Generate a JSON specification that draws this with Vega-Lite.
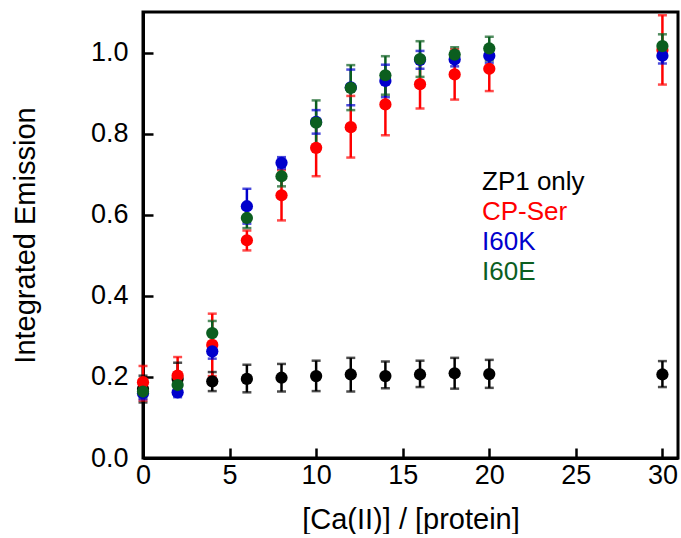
{
  "$schema": "https://vega.github.io/schema/vega-lite/v6.json",
  "width": 535,
  "height": 446,
  "padding": {"left": 11, "top": 12, "right": 2, "bottom": 0},
  "background": "white",
  "config": {
    "view": {"stroke": "black", "strokeWidth": 3},
    "font": "Liberation Sans",
    "axis": {
      "grid": false,
      "domainColor": "black",
      "domainWidth": 3,
      "tickColor": "black",
      "tickWidth": 2.5,
      "tickSize": -10,
      "labelColor": "black",
      "labelFont": "Liberation Sans",
      "labelFontSize": 27,
      "titleFont": "Liberation Sans",
      "titleFontSize": 29,
      "titleFontWeight": "normal",
      "titleColor": "black"
    }
  },
  "data": {
    "values": [
      {"series": "ZP1 only", "x": 0, "y": 0.170, "lo": 0.137, "hi": 0.203},
      {"series": "ZP1 only", "x": 2, "y": 0.195, "lo": 0.160, "hi": 0.235},
      {"series": "ZP1 only", "x": 4, "y": 0.189, "lo": 0.165, "hi": 0.212},
      {"series": "ZP1 only", "x": 6, "y": 0.195, "lo": 0.162, "hi": 0.230},
      {"series": "ZP1 only", "x": 8, "y": 0.198, "lo": 0.164, "hi": 0.232},
      {"series": "ZP1 only", "x": 10, "y": 0.202, "lo": 0.165, "hi": 0.240},
      {"series": "ZP1 only", "x": 12, "y": 0.206, "lo": 0.164, "hi": 0.247},
      {"series": "ZP1 only", "x": 14, "y": 0.202, "lo": 0.172, "hi": 0.238},
      {"series": "ZP1 only", "x": 16, "y": 0.206, "lo": 0.175, "hi": 0.240},
      {"series": "ZP1 only", "x": 18, "y": 0.209, "lo": 0.171, "hi": 0.247},
      {"series": "ZP1 only", "x": 20, "y": 0.207, "lo": 0.173, "hi": 0.242},
      {"series": "ZP1 only", "x": 30, "y": 0.206, "lo": 0.175, "hi": 0.239},
      {"series": "CP-Ser", "x": 0, "y": 0.187, "lo": 0.142, "hi": 0.227},
      {"series": "CP-Ser", "x": 2, "y": 0.203, "lo": 0.160, "hi": 0.249},
      {"series": "CP-Ser", "x": 4, "y": 0.279, "lo": 0.202, "hi": 0.356},
      {"series": "CP-Ser", "x": 6, "y": 0.537, "lo": 0.512, "hi": 0.561},
      {"series": "CP-Ser", "x": 8, "y": 0.648, "lo": 0.586, "hi": 0.710},
      {"series": "CP-Ser", "x": 10, "y": 0.765, "lo": 0.695, "hi": 0.835},
      {"series": "CP-Ser", "x": 12, "y": 0.816, "lo": 0.741, "hi": 0.893},
      {"series": "CP-Ser", "x": 14, "y": 0.872, "lo": 0.796, "hi": 0.948},
      {"series": "CP-Ser", "x": 16, "y": 0.922, "lo": 0.862, "hi": 0.982},
      {"series": "CP-Ser", "x": 18, "y": 0.946, "lo": 0.884, "hi": 1.008},
      {"series": "CP-Ser", "x": 20, "y": 0.960, "lo": 0.905, "hi": 1.015},
      {"series": "CP-Ser", "x": 30, "y": 1.006, "lo": 0.921, "hi": 1.092},
      {"series": "I60K", "x": 0, "y": 0.160, "lo": 0.145, "hi": 0.175},
      {"series": "I60K", "x": 2, "y": 0.162, "lo": 0.150, "hi": 0.175},
      {"series": "I60K", "x": 4, "y": 0.263, "lo": 0.245, "hi": 0.281},
      {"series": "I60K", "x": 6, "y": 0.621, "lo": 0.578, "hi": 0.664},
      {"series": "I60K", "x": 8, "y": 0.728, "lo": 0.714, "hi": 0.742},
      {"series": "I60K", "x": 10, "y": 0.829, "lo": 0.800, "hi": 0.858},
      {"series": "I60K", "x": 12, "y": 0.914, "lo": 0.870, "hi": 0.958},
      {"series": "I60K", "x": 14, "y": 0.930, "lo": 0.890, "hi": 0.970},
      {"series": "I60K", "x": 16, "y": 0.982, "lo": 0.960, "hi": 1.004},
      {"series": "I60K", "x": 18, "y": 0.983, "lo": 0.966, "hi": 1.000},
      {"series": "I60K", "x": 20, "y": 0.992, "lo": 0.975, "hi": 1.009},
      {"series": "I60K", "x": 30, "y": 0.992, "lo": 0.973, "hi": 1.011},
      {"series": "I60E", "x": 0, "y": 0.164, "lo": 0.150, "hi": 0.178},
      {"series": "I60E", "x": 2, "y": 0.180, "lo": 0.165, "hi": 0.195},
      {"series": "I60E", "x": 4, "y": 0.308, "lo": 0.278, "hi": 0.338},
      {"series": "I60E", "x": 6, "y": 0.592, "lo": 0.567, "hi": 0.617},
      {"series": "I60E", "x": 8, "y": 0.695, "lo": 0.670, "hi": 0.720},
      {"series": "I60E", "x": 10, "y": 0.827, "lo": 0.772, "hi": 0.882},
      {"series": "I60E", "x": 12, "y": 0.913, "lo": 0.858, "hi": 0.969},
      {"series": "I60E", "x": 14, "y": 0.944, "lo": 0.896, "hi": 0.991},
      {"series": "I60E", "x": 16, "y": 0.984, "lo": 0.940, "hi": 1.028},
      {"series": "I60E", "x": 18, "y": 0.995, "lo": 0.977, "hi": 1.013},
      {"series": "I60E", "x": 20, "y": 1.010, "lo": 0.981, "hi": 1.039},
      {"series": "I60E", "x": 30, "y": 1.016, "lo": 0.987, "hi": 1.045}
    ]
  },
  "encoding": {
    "x": {
      "field": "x",
      "type": "quantitative",
      "scale": {"domain": [0, 30.9], "nice": false, "zero": false},
      "axis": {
        "title": "[Ca(II)] / [protein]",
        "values": [0, 5, 10, 15, 20, 25, 30],
        "labelPadding": 14,
        "titlePadding": 17,
        "labelFlush": false
      }
    },
    "color": {
      "field": "series",
      "type": "nominal",
      "scale": {
        "domain": ["ZP1 only", "CP-Ser", "I60K", "I60E"],
        "range": ["#000000", "#ff0000", "#0000cc", "#0b5e1f"]
      },
      "legend": {
        "orient": "none",
        "legendX": 313,
        "legendY": 157,
        "title": null,
        "symbolSize": 0,
        "symbolOpacity": 0,
        "symbolStrokeWidth": 0,
        "labelOffset": 0,
        "labelFontSize": 26,
        "labelFont": "Liberation Sans",
        "rowPadding": 4,
        "padding": 0,
        "encode": {
          "labels": {"update": {"fill": {"scale": "color", "field": "value"}}}
        }
      }
    }
  },
  "layer": [
    {
      "mark": {"type": "rule", "strokeWidth": 2.5},
      "encoding": {
        "y": {"field": "lo", "type": "quantitative"},
        "y2": {"field": "hi"}
      }
    },
    {
      "mark": {"type": "tick", "orient": "horizontal", "size": 9, "thickness": 2.5},
      "encoding": {
        "y": {"field": "hi", "type": "quantitative"}
      }
    },
    {
      "mark": {"type": "tick", "orient": "horizontal", "size": 9, "thickness": 2.5},
      "encoding": {
        "y": {"field": "lo", "type": "quantitative"}
      }
    },
    {
      "mark": {"type": "point", "filled": true, "opacity": 1, "size": 150, "shape": "circle"},
      "encoding": {
        "y": {
          "field": "y",
          "type": "quantitative",
          "scale": {"domain": [0, 1.1], "nice": false, "zero": false},
          "axis": {
            "title": "Integrated Emission",
            "values": [0, 0.2, 0.4, 0.6, 0.8, 1.0],
            "format": ".1f",
            "labelPadding": 25,
            "titlePadding": 50,
            "labelFlush": false
          }
        }
      }
    }
  ]
}
